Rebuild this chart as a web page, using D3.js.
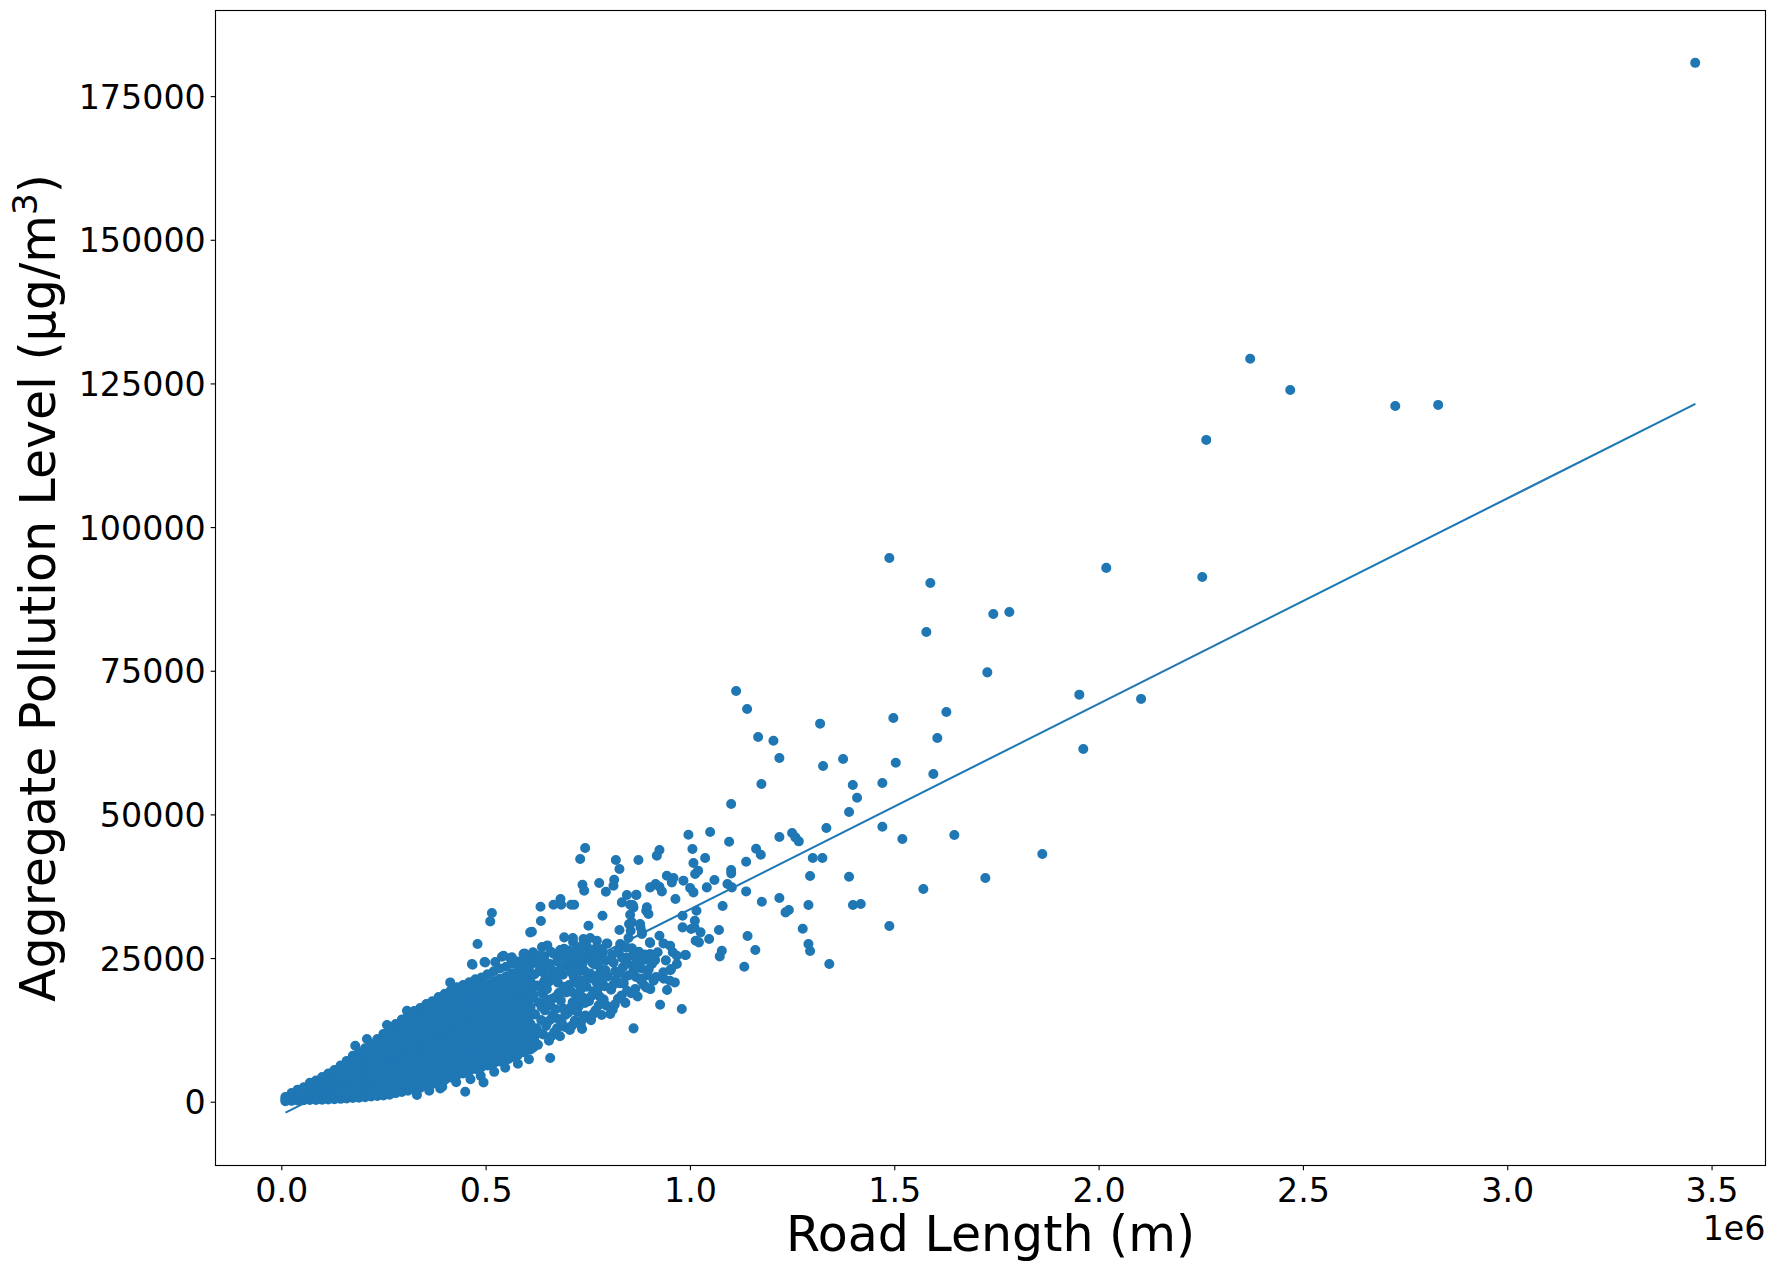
<!DOCTYPE html>
<html>
<head>
<meta charset="utf-8">
<script src="https://cdn.jsdelivr.net/npm/d3@7"></script>
<style>
  html, body { margin: 0; padding: 0; background: #ffffff; }
  svg { display: block; }
  text { font-family: "DejaVu Sans", sans-serif; fill: #000; }
</style>
</head>
<body>
<svg id="chart" width="1775" height="1271"></svg>
<script>
// ---------------- data ----------------
const xTickValues = [0, 500000, 1000000, 1500000, 2000000, 2500000, 3000000, 3500000];
const xTickLabels = ["0.0", "0.5", "1.0", "1.5", "2.0", "2.5", "3.0", "3.5"];
const yTickValues = [0, 25000, 50000, 75000, 100000, 125000, 150000, 175000];
const xOffsetLabel = "1e6";
const xAxisTitle = "Road Length (m)";
const yAxisTitle = "Aggregate Pollution Level (μg/m";
const yAxisTitleSup = "3";

// fitted regression line end points
const fitLineX = [10300, 3460500];
const fitLineY = [-1890, 121450];

// sparse / outlying points [road length (m), pollution]
const outlierPoints = [
  [3460000,180790],[2371000,129290],[2469000,123870],[2726000,121070],[2831000,121260],[2263500,115170],
  [2253700,91310],[2018800,92900],[1488000,94630],[1588300,90280],[1742400,84880],[1781600,85230],
  [1578500,81750],[1727700,74720],[1952800,70840],[2104000,70100],[1962600,61390],[1627500,67830],
  [1605400,63300],[1595700,57040],[1497800,66780],[1503700,59000],[1470900,55470],[1470900,47860],
  [1519800,45720],[1647000,46420],[1862300,43110],[1722900,38940],[1571200,37020],[1488000,30580],
  [1113000,71480],[1139900,68350],[1166800,63480],[1204300,62830],[1218900,59820],[1174900,55300],
  [1318500,65790],[1325800,58430],[1374800,59650],[1398500,55120],[1409000,52910],[1389400,50420],
  [1100800,51820],
  [996300,46470],[1049400,46940],[1095900,45250],[1006100,43980],[1037200,42420],[1161900,44030],
  [1173400,42990],[1218900,46070],[1250000,46770],[1258100,46000],[1266400,45310],[1333900,47640],
  [1300600,42420],[1324100,42420],[1294000,39280],[1389400,39160],[1137500,41770],[1008600,41550],
  [1020000,40210],[1012700,39630],[984100,38470],[1000500,37190],[1008600,36430],[1060000,38590],
  [1100800,40330],[1101000,39740],[1091800,37890],[1102500,37300],[1137500,36600],[1041300,37300],
  [1175900,34810],[1218900,35450],
  [1341000,23970],[1399000,34240],[1418000,34410],[1290000,34240],[1276000,30110],[1290000,27450],
  [1294000,26230],[1234000,32950],[1242000,33370],[1160000,26400],[1141000,28840],[1133000,23500],
  [1080000,34060],[1071000,29890],[1078000,26280],[1073000,25290],
  [1016000,33240],[1012000,31500],[1011000,30340],[982000,32370],[982000,30340],[1003000,30060],
  [1026000,29470],[1014000,28020],[1022000,27730],[1047000,28320],[990000,25530],[944000,19440],
  [951000,21060],[963000,20760],[916000,37890],[893000,33240],[879000,30340],[883000,29470],
  [851000,30930],[855000,29760],[902000,27730],[968000,25410],[988000,25530],[907000,23970],
  [877000,24840],[869000,23380],[935000,22510],[954000,23100],[911000,21060],[881000,21060],
  [893000,19890],[869000,36030],[860000,34240],
  [743600,44160],[731400,42240],[818700,42070],[874000,42070],[925400,43810],[919000,42820],
  [827500,40500],[737000,37770],[741200,36730],[777900,38070],[794300,36550],[814600,38640],
  [812900,37590],[634300,33940],[635300,31450],[683200,35280],[666100,34290],[684900,34290],
  [709400,34290],[716700,34290],[786000,32370],[751700,30630],[613300,29590],[845700,35980],
  [868400,35980],[833400,34690],[853700,34290],[861800,33820],[894600,33820],[898500,32670],
  [853700,32550],[857900,31210],[878200,30930],[827500,29880],[849600,28490],[882300,29190],
  [902600,37300],[925400,37420],[931300,36600],[943500,39330],[959700,38930],[955700,38170],
  [964500,35280],[692300,28600],[713600,28490],[739500,28320],[755900,28490],[772300,28020],
  [925400,28890],[902600,27620],[935200,27550],[951600,27150],[796700,27550],[829300,27450],
  [468000,23840],[497300,24320],[523500,24320],[539900,25240],[560200,25010],[595200,25810],
  [599300,25120],[631800,25410],[682500,26400],[723300,26580],[739500,25810],[768100,25710],
  [784500,26580],[825100,26400],[843900,26860],[861800,25710],[902600,25710],[914900,24660],
  [968000,23970],
  [515400,32840],[511300,31380],[480200,27450],[609100,29470],[413400,20760],[307500,15840],
  [258600,13350],[209600,10910],[181000,9750],[494900,3360],[450100,1740],[388900,2310],
  [332000,1170],[466500,23970],[499000,24250],[543800,25410],[564300,25120],[592700,25710],
  [556000,7430],[658000,7610],[617000,9450],[736000,12650],[862000,12760],[805000,15260],
  [927000,16880],[980000,16130],
  [362000,1900],[394000,2600],[428000,3400],[463000,3900],[488000,4500],[521000,5200],
  [548000,5900],[579000,6600],[606000,7400]
];

// looser part of the cluster, right of 0.62e6 m
const spreadPoints = [
  [628000,9900],[641000,11700],[624000,12800],[636000,14200],[645000,15900],[629000,17300],
  [640000,18800],[626000,20200],[647000,21700],[633000,23100],[622000,24600],[644000,25300],[638000,26900],
  [655000,10600],[668000,12100],[652000,13900],[664000,15100],[658000,16800],[671000,18200],
  [650000,19600],[662000,21300],[673000,22600],[656000,24000],[667000,25700],[651000,27200],
  [682000,11400],[694000,13000],[678000,14400],[690000,16200],[684000,17600],[697000,19000],
  [677000,20700],[689000,22100],[696000,23700],[681000,25200],[692000,26600],
  [706000,12500],[718000,14100],[702000,15500],[713000,17300],[721000,18700],[704000,20300],
  [716000,21600],[709000,23400],[722000,24900],[703000,26300],[714000,27800],
  [733000,13300],[744000,15000],[728000,16600],[739000,18100],[747000,20000],[731000,21200],
  [742000,22800],[727000,24300],[746000,25600],[735000,27100],
  [758000,14200],[769000,15900],[753000,17500],[764000,19200],[772000,20700],[756000,22300],
  [767000,23900],[751000,25100],[771000,26800],
  [784000,15100],[796000,16700],[779000,18300],[791000,20100],[799000,21800],[782000,23000],
  [794000,24600],[777000,26200],[798000,27500],
  [811000,16000],[824000,17900],[807000,19500],[819000,21200],[829000,22500],[813000,24200],[826000,25900],
  [842000,17200],[856000,18900],[838000,20600],[851000,22000],[861000,23600],[845000,25100],[858000,26700],
  [872000,18300],[887000,20300],[868000,21700],[881000,23200],[891000,24700],[875000,26100],
  [903000,19600],[917000,21700],[899000,23000],[912000,24500],[921000,26000],
  [936000,21400],[952000,22900],[941000,24600],[958000,26000],
  [619000,11000],[631000,12000],[648000,13200],[621000,15200],[637000,16500],[649000,17800],
  [618000,18600],[634000,19900],[643000,20900],[620000,22200],[639000,22600],[628000,24100],
  [616000,26000],[646000,23900],
  [661000,11400],[675000,12800],[686000,13800],[659000,14300],[672000,16100],[695000,15100],
  [663000,17900],[679000,18900],[691000,20000],[655000,20900],[668000,21800],[684000,23100],
  [661000,23000],[675000,24400],[687000,25500],[660000,26100],[699000,24700],
  [711000,13200],[724000,15600],[737000,14300],[708000,16400],[726000,17600],[743000,17200],
  [711000,19100],[733000,19600],[724000,20600],[748000,21500],[711000,22400],[731000,22800],
  [719000,23800],[738000,24200],[709000,25100],[726000,26100],[748000,27000],
  [762000,15200],[777000,16800],[789000,17800],[759000,18400],[773000,19300],[785000,21100],
  [761000,21400],[776000,22100],[793000,22900],[762000,24100],[781000,24600],[757000,26300],[787000,26000],
  [816000,16900],[833000,18500],[846000,19300],[812000,20300],[829000,20600],[843000,21800],
  [817000,22700],[836000,23400],[848000,24000],[810000,25600],[834000,25000],
  [866000,19600],[882000,21400],[896000,22000],[861000,22600],[873000,24200],[889000,25600],[866000,25200]
];

// dense cluster, read column by column: [road length (m), [pollution values]]
const clusterColumns = [
  [10000, [100, 400, 800]],
  [25000, [150, 500, 1000, 1500]],
  [40000, [200, 600, 1100, 1700, 2100]],
  [55000, [250, 700, 1300, 1900, 2500]],
  [70000, [300, 800, 1500, 2200, 2900, 3300]],
  [85000, [300, 900, 1600, 2400, 3100, 3700]],
  [100000, [350, 1000, 1800, 2600, 3300, 4000, 4300]],
  [115000, [400, 1100, 1900, 2800, 3600, 4300, 4900]],
  [130000, [450, 1200, 2100, 3000, 3900, 4700, 5500]],
  [145000, [500, 1300, 2200, 3200, 4100, 5000, 5800, 6300]],
  [160000, [550, 1400, 2400, 3400, 4400, 5400, 6300, 7100]],
  [175000, [650, 1600, 2600, 3600, 4600, 5600, 6600, 7500, 8000]],
  [190000, [700, 1700, 2700, 3800, 4900, 5900, 6900, 7900, 8600]],
  [205000, [800, 1800, 2900, 4000, 5100, 6200, 7300, 8300, 9300]],
  [220000, [900, 2000, 3100, 4200, 5300, 6400, 7500, 8600, 9600, 10100]],
  [235000, [1000, 2100, 3300, 4400, 5600, 6800, 7900, 9000, 10100, 10900]],
  [250000, [1100, 2300, 3500, 4700, 5900, 7100, 8300, 9500, 10700, 11800]],
  [265000, [1200, 2400, 3700, 4900, 6200, 7400, 8600, 9900, 11100, 12300, 12900]],
  [280000, [1500, 2700, 3900, 5200, 6500, 7800, 9000, 10300, 11600, 12800, 13500]],
  [295000, [1700, 2900, 4200, 5500, 6800, 8100, 9400, 10700, 12000, 13300, 14300]],
  [310000, [1900, 3200, 4500, 5800, 7100, 8400, 9700, 11000, 12300, 13600, 14900]],
  [325000, [2100, 3400, 4700, 6000, 7400, 8700, 10000, 11400, 12700, 14000, 15300, 15800]],
  [340000, [2400, 3700, 5000, 6400, 7700, 9100, 10400, 11800, 13100, 14500, 15800, 16300]],
  [355000, [2800, 4100, 5400, 6800, 8100, 9500, 10800, 12200, 13600, 14900, 16300, 17000]],
  [370000, [3100, 4400, 5800, 7100, 8500, 9900, 11200, 12600, 14000, 15400, 16700, 17500]],
  [385000, [3400, 4800, 6100, 7500, 8900, 10300, 11700, 13000, 14400, 15800, 17200, 18200]],
  [400000, [3800, 5200, 6500, 7900, 9300, 10700, 12100, 13500, 14900, 16300, 17700, 18800]],
  [415000, [4200, 5500, 6900, 8300, 9700, 11100, 12500, 13900, 15300, 16700, 18100, 19400]],
  [430000, [4600, 5900, 7300, 8700, 10100, 11500, 12900, 14300, 15700, 17100, 18500, 19900]],
  [445000, [4900, 6300, 7700, 9100, 10500, 11900, 13300, 14700, 16100, 17500, 18900, 20300]],
  [460000, [5300, 6700, 8100, 9500, 10900, 12300, 13700, 15100, 16500, 17900, 19300, 20800]],
  [475000, [5700, 7100, 8500, 9900, 11300, 12700, 14100, 15500, 16900, 18300, 19700, 21300]],
  [490000, [6000, 7400, 8800, 10200, 11600, 13100, 14500, 15900, 17300, 18700, 20100, 21600]],
  [505000, [6300, 7700, 9100, 10600, 12000, 13400, 14800, 16300, 17700, 19100, 20500, 22200]],
  [520000, [6700, 8100, 9500, 11000, 12400, 13800, 15300, 16700, 18100, 19600, 21000, 22700]],
  [535000, [7000, 8400, 9900, 11300, 12800, 14200, 15600, 17100, 18500, 20000, 21400, 23200]],
  [550000, [7400, 8800, 10300, 11700, 13200, 14600, 16000, 17500, 18900, 20400, 21800, 23500]],
  [565000, [7800, 9300, 10700, 12200, 13600, 15100, 16500, 18000, 19400, 20900, 22300, 24000]],
  [580000, [8200, 9700, 11100, 12600, 14000, 15500, 16900, 18400, 19800, 21300, 22800, 24400]],
  [595000, [8600, 10100, 11500, 13000, 14500, 15900, 17400, 18900, 20300, 21800, 23300, 24900]],
  [610000, [9100, 10600, 12000, 13500, 15000, 16400, 17900, 19400, 20900, 22300, 23800, 25300]]
];

// ---------------- drawing ----------------
const W = 1775, H = 1271;
const plot = { left: 215.5, top: 10.5, right: 1765.5, bottom: 1165.5 };
const blue = "#1f77b4";
const tickFont = 33.3, labelFont = 49;

const svg = d3.select("#chart");
svg.append("rect").attr("width", W).attr("height", H).attr("fill", "#fff");

const x = d3.scaleLinear().domain([-161000, 3632000]).range([plot.left, plot.right]);
const y = d3.scaleLinear().domain([-11100, 189900]).range([plot.bottom, plot.top]);

const points = [];
clusterColumns.forEach(([cx, ys]) => ys.forEach(v => points.push([cx, v])));
spreadPoints.forEach(p => points.push(p));
outlierPoints.forEach(p => points.push(p));

const plotArea = svg.append("g");
plotArea.append("g").selectAll("circle").data(points).join("circle")
  .attr("cx", d => x(d[0])).attr("cy", d => y(d[1]))
  .attr("r", 4.17)
  .attr("fill", blue).attr("stroke", blue).attr("stroke-width", 1.7);

const fitData = fitLineX.map((v, i) => [v, fitLineY[i]]);
plotArea.append("path").datum(fitData)
  .attr("d", d3.line().x(d => x(d[0])).y(d => y(d[1])))
  .attr("fill", "none").attr("stroke", blue).attr("stroke-width", 2.08);

// axes
const xAxis = d3.axisBottom(x).tickValues(xTickValues)
  .tickFormat((d, i) => xTickLabels[i]).tickSize(4.86).tickPadding(4.86);
const gx = svg.append("g").attr("transform", `translate(0,${plot.bottom})`).call(xAxis);
gx.select(".domain").remove();
gx.selectAll(".tick line").attr("stroke", "#000").attr("stroke-width", 1.11);
gx.selectAll(".tick text").attr("font-size", tickFont).attr("font-family", "DejaVu Sans")
  .attr("y", 36.2).attr("dy", 0).attr("fill", "#000");

const yAxis = d3.axisLeft(y).tickValues(yTickValues)
  .tickFormat(d => String(d)).tickSize(4.86).tickPadding(4.86);
const gy = svg.append("g").attr("transform", `translate(${plot.left},0)`).call(yAxis);
gy.select(".domain").remove();
gy.selectAll(".tick line").attr("stroke", "#000").attr("stroke-width", 1.11);
gy.selectAll(".tick text").attr("font-size", tickFont).attr("font-family", "DejaVu Sans")
  .attr("dy", "0.365em").attr("fill", "#000");

// spines
svg.append("rect")
  .attr("x", plot.left).attr("y", plot.top)
  .attr("width", plot.right - plot.left).attr("height", plot.bottom - plot.top)
  .attr("fill", "none").attr("stroke", "#000").attr("stroke-width", 1.11);

// offset text
svg.append("text").attr("x", plot.right).attr("y", 1240)
  .attr("text-anchor", "end").attr("font-size", tickFont).text(xOffsetLabel);

// axis titles
svg.append("text").attr("x", (plot.left + plot.right) / 2).attr("y", 1251)
  .attr("text-anchor", "middle").attr("font-size", labelFont).text(xAxisTitle);

const yt = svg.append("text")
  .attr("transform", `translate(55,${(plot.top + plot.bottom) / 2}) rotate(-90)`)
  .attr("text-anchor", "middle").attr("font-size", labelFont);
yt.append("tspan").text(yAxisTitle);
yt.append("tspan").attr("dy", -18).attr("font-size", labelFont * 0.7).text(yAxisTitleSup);
yt.append("tspan").attr("dy", 18).text(")");
</script>
</body>
</html>
